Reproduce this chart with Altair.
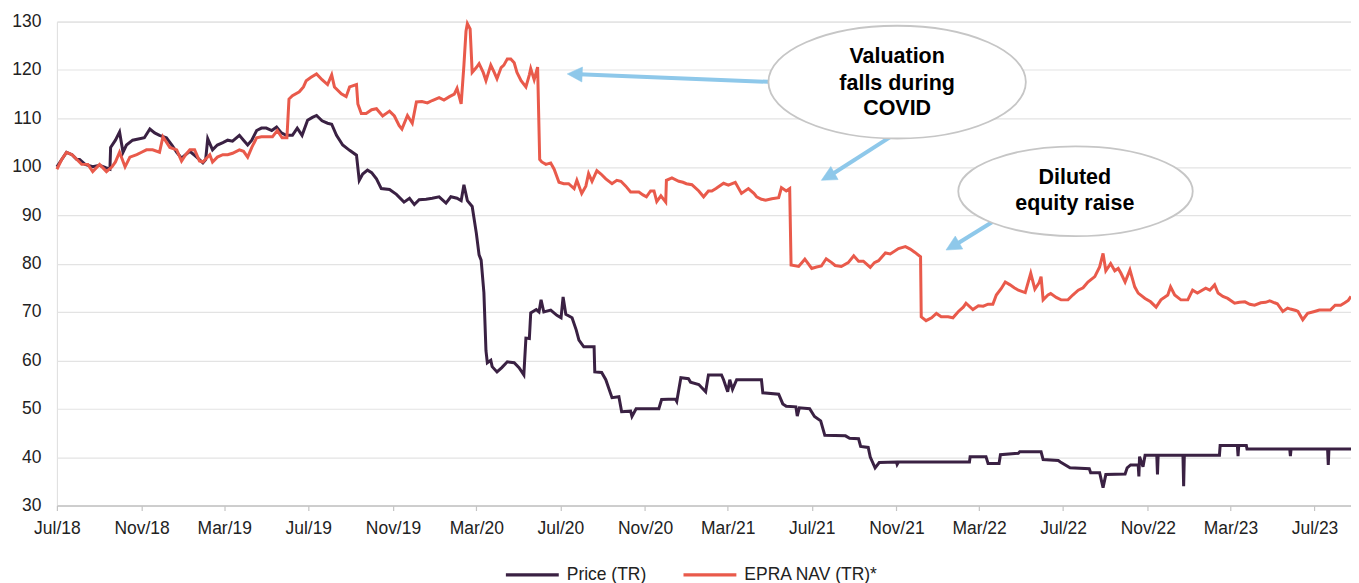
import altair as alt
import pandas as pd

# ---------------- data ----------------
price_dates = [
    "2018-07-01","2018-07-08","2018-07-15","2018-07-23","2018-07-30","2018-08-03","2018-08-11","2018-08-22",
    "2018-09-01","2018-09-10","2018-09-16","2018-09-17","2018-09-24","2018-09-30","2018-10-05","2018-10-10",
    "2018-10-19","2018-10-29","2018-11-05","2018-11-13","2018-11-20","2018-11-27","2018-12-07","2018-12-15",
    "2018-12-22","2018-12-29","2019-01-04","2019-01-10","2019-01-20","2019-01-29","2019-02-02","2019-02-05",
    "2019-02-12","2019-02-19","2019-02-27","2019-03-06","2019-03-13","2019-03-23","2019-03-29","2019-04-04",
    "2019-04-10","2019-04-17","2019-04-24","2019-05-01","2019-05-09","2019-05-16","2019-05-23","2019-05-30",
    "2019-06-08","2019-06-15","2019-06-22","2019-06-30","2019-07-07","2019-07-13","2019-07-21","2019-07-29",
    "2019-08-04","2019-08-11","2019-08-20","2019-08-30","2019-09-09","2019-09-13","2019-09-18","2019-09-25",
    "2019-10-01","2019-10-08","2019-10-15","2019-10-27","2019-11-06","2019-11-17","2019-11-25","2019-12-02",
    "2019-12-09","2019-12-19","2019-12-28","2020-01-07","2020-01-17","2020-01-24","2020-02-02","2020-02-08",
    "2020-02-12","2020-02-17","2020-02-24","2020-03-01","2020-03-05","2020-03-08","2020-03-12","2020-03-15",
    "2020-03-17","2020-03-22","2020-03-24","2020-03-31","2020-04-07","2020-04-15","2020-04-25","2020-05-02",
    "2020-05-09","2020-05-12","2020-05-17","2020-05-19","2020-05-27","2020-05-31","2020-06-03","2020-06-07",
    "2020-06-17","2020-06-26","2020-07-02","2020-07-05","2020-07-09","2020-07-18","2020-07-24","2020-07-28",
    "2020-08-04","2020-08-19","2020-08-20","2020-08-30","2020-09-05","2020-09-14","2020-09-24","2020-09-28",
    "2020-10-11","2020-10-13","2020-10-19","2020-11-21","2020-11-25","2020-12-15","2020-12-17","2020-12-23",
    "2021-01-03","2021-01-06","2021-01-18","2021-01-28","2021-02-01","2021-02-20","2021-02-23","2021-03-01",
    "2021-03-04","2021-03-08","2021-03-14","2021-04-19","2021-04-21","2021-05-14","2021-05-20","2021-05-25",
    "2021-06-08","2021-06-10","2021-06-13","2021-06-28","2021-07-05","2021-07-14","2021-07-20","2021-08-19",
    "2021-08-25","2021-09-07","2021-09-10","2021-09-21","2021-09-24","2021-10-01","2021-10-07","2021-11-01",
    "2021-11-02","2021-11-04","2022-02-15","2022-02-16","2022-03-11","2022-03-14","2022-03-30","2022-04-01",
    "2022-04-27","2022-04-29","2022-05-30","2022-06-02","2022-06-24","2022-06-27","2022-07-11","2022-08-08",
    "2022-08-10","2022-08-23","2022-08-28","2022-09-01","2022-09-29","2022-10-02","2022-10-07","2022-10-18",
    "2022-10-19","2022-10-20","2022-10-25","2022-10-28","2022-11-14","2022-11-15","2022-11-16","2022-12-22",
    "2022-12-23","2022-12-24","2023-02-13","2023-02-14","2023-03-11","2023-03-12","2023-03-13","2023-03-24",
    "2023-03-25","2023-05-26","2023-05-27","2023-05-28","2023-07-20","2023-07-21","2023-07-22","2023-08-23",
]
price_values = [
    100,101.5,103,102.5,101.5,101.5,100.5,100,
    100.3,99.8,99.5,104,105.5,107.2,103,104.5,
    105.5,105.8,106,107.8,107,106.5,106,104.5,
    103,101.8,102.5,103.2,102,100.8,101.5,105.8,
    103.5,104.5,105,105.5,105.3,106.5,105.5,104.5,
    105.5,107.5,108,108,107.5,108.2,107,106.5,
    106.5,108,106.5,109.6,110.2,110.6,109.5,109,
    108.8,106.5,104.5,103.4,102.4,97.2,98.5,99.3,
    98.8,97.5,95.5,95.3,94.3,92.7,93.5,92.2,
    93.2,93.3,93.5,93.8,92.5,93.8,93.5,93,
    96.3,93,91.8,86.3,81.8,80.7,74,62,
    59.5,60,58.7,57.6,58.5,59.7,59.5,58.5,
    57,64.6,64.5,69.8,70.5,70,72.5,70,
    70.4,69.3,68.8,73.1,69.5,68.8,66.3,64.2,
    62.8,62.8,57.6,57.5,56,52.3,52.5,49.4,
    49.5,48.4,50,50,51.9,52,51.5,56.4,
    56.2,55.5,55,53.5,57,57,56,53.5,
    56,54,56,56,53.3,53,51,50.5,
    50.4,48.5,50.2,50,48.4,47.5,44.5,44.4,
    43.9,43.8,42.2,42,40,37.8,38.9,39,
    38.5,39,39,40.1,40.1,38.7,38.7,40.5,
    40.8,41.1,41.1,39.5,39.3,39,37.8,37.6,
    36.8,36.8,33.7,36.4,36.5,37.8,38.4,38.4,
    36,40.1,38,40.4,40.4,36.4,40.4,40.4,
    34,40.4,40.4,42.4,42.4,40.2,42.4,42.4,
    41.7,41.7,40.2,41.7,41.7,38.4,41.7,41.7,
]

nav_dates = [
    "2018-07-01","2018-07-08","2018-07-15","2018-07-23","2018-07-30","2018-08-06","2018-08-15","2018-08-22",
    "2018-09-01","2018-09-11","2018-09-19","2018-09-24","2018-09-30","2018-10-08","2018-10-15","2018-10-25",
    "2018-11-01","2018-11-08","2018-11-17","2018-11-27","2018-12-02","2018-12-12","2018-12-22","2018-12-29",
    "2019-01-04","2019-01-10","2019-01-17","2019-01-24","2019-01-29","2019-02-08","2019-02-12","2019-02-19",
    "2019-02-27","2019-03-06","2019-03-13","2019-03-23","2019-03-29","2019-04-04","2019-04-10","2019-04-17",
    "2019-04-24","2019-05-01","2019-05-10","2019-05-17","2019-05-24","2019-05-31","2019-06-03","2019-06-08",
    "2019-06-18","2019-06-24","2019-06-28","2019-07-05","2019-07-13","2019-07-21","2019-07-29","2019-08-04",
    "2019-08-08","2019-08-18","2019-08-25","2019-08-30","2019-09-09","2019-09-11","2019-09-16","2019-09-23",
    "2019-10-01","2019-10-08","2019-10-17","2019-10-27","2019-11-03","2019-11-10","2019-11-14","2019-11-22",
    "2019-11-29","2019-12-05","2019-12-13","2019-12-21","2019-12-28","2020-01-07","2020-01-14","2020-01-22",
    "2020-01-29","2020-02-02","2020-02-08","2020-02-12","2020-02-15","2020-02-17","2020-02-21","2020-02-24",
    "2020-03-01","2020-03-05","2020-03-11","2020-03-15","2020-03-22","2020-03-27","2020-03-31","2020-04-06",
    "2020-04-10","2020-04-15","2020-04-20","2020-04-25","2020-04-29","2020-05-05","2020-05-12","2020-05-17",
    "2020-05-19","2020-05-24","2020-05-29","2020-06-01","2020-06-04","2020-06-10","2020-06-17","2020-06-22",
    "2020-06-29","2020-07-06","2020-07-13","2020-07-21","2020-07-25","2020-08-01","2020-08-07","2020-08-11",
    "2020-08-16","2020-08-23","2020-08-29","2020-09-05","2020-09-14","2020-09-21","2020-09-27","2020-10-04",
    "2020-10-11","2020-10-19","2020-10-23","2020-10-29","2020-11-03","2020-11-09","2020-11-14","2020-11-18",
    "2020-11-24","2020-12-01","2020-12-02","2020-12-10","2020-12-20","2020-12-26","2020-12-31","2021-01-08",
    "2021-01-18","2021-01-25","2021-02-01","2021-02-06","2021-02-12","2021-02-23","2021-03-02","2021-03-12",
    "2021-03-21","2021-03-31","2021-04-08","2021-04-12","2021-04-19","2021-04-25","2021-05-04","2021-05-14",
    "2021-05-18","2021-05-25","2021-05-30","2021-06-01","2021-06-12","2021-06-21","2021-07-01","2021-07-08",
    "2021-07-15","2021-07-22","2021-07-30","2021-08-04","2021-08-13","2021-08-23","2021-08-31","2021-09-07",
    "2021-09-14","2021-09-24","2021-09-30","2021-10-06","2021-10-16","2021-10-23","2021-11-04","2021-11-14",
    "2021-11-21","2021-11-28","2021-12-06","2021-12-07","2021-12-14","2021-12-22","2021-12-29","2022-01-05",
    "2022-01-15","2022-01-22","2022-01-30","2022-02-06","2022-02-10","2022-02-20","2022-02-28","2022-03-07",
    "2022-03-14","2022-03-21","2022-03-26","2022-04-02","2022-04-08","2022-04-15","2022-04-21","2022-04-27",
    "2022-05-07","2022-05-15","2022-05-21","2022-05-27","2022-05-30","2022-06-02","2022-06-09","2022-06-13",
    "2022-06-21","2022-06-28","2022-07-08","2022-07-15","2022-07-23","2022-07-30","2022-08-06","2022-08-16",
    "2022-08-23","2022-08-28","2022-09-01","2022-09-08","2022-09-14","2022-09-19","2022-09-23","2022-09-29",
    "2022-10-06","2022-10-13","2022-10-18","2022-10-28","2022-11-05","2022-11-13","2022-11-20","2022-11-30",
    "2022-12-04","2022-12-10","2022-12-19","2022-12-29","2023-01-05","2023-01-12","2023-01-24","2023-01-30",
    "2023-02-06","2023-02-11","2023-02-18","2023-02-25","2023-03-07","2023-03-14","2023-03-22","2023-03-29",
    "2023-04-05","2023-04-14","2023-04-21","2023-04-27","2023-05-04","2023-05-08","2023-05-16","2023-05-23",
    "2023-05-27","2023-06-04","2023-06-07","2023-06-14","2023-06-21","2023-07-01","2023-07-08","2023-07-15",
    "2023-07-24","2023-07-31","2023-08-08","2023-08-14","2023-08-19","2023-08-23",
]
nav_values = [
    99.5,101.5,103,102.5,101.5,100.5,100.5,99,
    100.5,99,100,101,103,100,102,102.5,
    103,103.5,103.5,103,106.2,104,103.5,101.2,
    102.5,103.5,103.5,101.2,101,102.5,101,102,
    102.5,102.5,102.8,103.5,103.2,102,104,106,
    106.2,106.2,106.2,107.5,106,106,114,114.7,
    115.5,116.5,117.8,118.5,119.2,118,117,119,
    116.5,115.1,114.5,116.5,117,113,111,111,
    111.8,112,110.5,111.5,110.5,108.5,107.8,110.6,
    109,113.4,113.5,113.2,113.7,114.3,113.8,114.5,
    115,116.2,113,121,128,129.6,128.5,119.5,
    120.5,121.3,119.5,117.8,121,119.5,118.2,120.5,
    121,122.3,122.3,121.5,119.5,117.8,116.5,119,
    120.3,118,120.6,101.5,101,100.5,100.8,99.5,
    96.8,96.5,96.5,95.5,97.2,94.5,96,98.6,
    97,99.2,98.5,97.5,96.5,97.2,97,96,
    94.8,94.8,94.8,94.2,93.8,95,95,92.8,
    94,92.7,97.2,97.7,97,96.8,96.5,96.3,
    95,93.8,95,95,95.5,96.6,96.2,96.8,
    94.5,95.5,94.5,93.8,93.3,93.1,93.4,93.6,
    95.7,95,95.5,79.7,79.4,80.9,79,79.3,
    79.5,81,80.2,79.6,79.4,80.2,81.6,80.5,
    80.5,79.2,80.2,80.6,82.2,82,83.1,83.5,
    83,82.3,81.4,69,68.2,68.8,69.7,69,
    69,68.8,70.1,71,71.8,70.5,71.3,71.2,
    71.6,71.6,73.5,74.8,76.2,75.6,75,74.5,
    74,78,74.7,76,77.3,72.5,73.5,73.8,
    73,72.5,72.5,73.5,74.5,75,76.2,77.3,
    79.3,82.1,78.5,80,78.5,79,78,76.2,
    78.7,75.2,73.9,72.8,72.1,71,72.5,73.5,
    75.2,73.5,72.5,72.5,74.5,73.9,74.9,74.5,
    75.6,73.9,73.2,72.8,71.8,72,72.1,71.6,
    71.4,71.9,72,72.3,71.9,71.7,70.1,70.8,
    70.6,70.3,70.1,68.4,69.7,70.1,70.4,70.4,
    70.4,71.4,71.4,71.9,72.4,73.2,
]

series_names = ["Price (TR)", "EPRA NAV (TR)*"]
series_colors = ["#3a2143", "#e95a4b"]
x_tick_dates = [(2018, 7), (2018, 11), (2019, 3), (2019, 7), (2019, 11), (2020, 3), (2020, 7),
                (2020, 11), (2021, 3), (2021, 7), (2021, 11), (2022, 3), (2022, 7), (2022, 11),
                (2023, 3), (2023, 7)]
y_ticks = [30, 40, 50, 60, 70, 80, 90, 100, 110, 120, 130]

# annotation callouts (anchored in data units)
bubble_texts = ["Valuation", "falls during", "COVID", "Diluted", "equity raise"]
bubble_text_dates = ["2021-11-02", "2021-11-02", "2021-11-02", "2022-07-18", "2022-07-18"]
bubble_text_values = [122.6, 117.2, 112.0, 97.6, 92.4]
bubble_dates = ["2021-11-02", "2022-07-19"]
bubble_values = [117.5, 94.95]
arrow_start_dates = ["2021-05-28", "2021-11-11", "2022-04-05"]
arrow_start_values = [117.4, 107.9, 90.0]
arrow_base_dates = ["2020-07-28", "2021-07-30", "2022-01-27"]
arrow_base_values = [119.1, 98.4, 84.0]
arrow_tip_dates = ["2020-07-11", "2021-07-15", "2022-01-12"]
arrow_tip_values = [119.2, 97.2, 82.8]
arrow_angles = [272.4, 240.8, 240.1]

# ---------------- tables ----------------
price_df = pd.DataFrame({"date": price_dates, "value": price_values, "series": series_names[0]})
nav_df = pd.DataFrame({"date": nav_dates, "value": nav_values, "series": series_names[1]})


def ellipse_path(r):
    k = 0.5523
    return (f"M -1 0 C -1 {-k*r:.4f} {-k:.4f} {-r:.4f} 0 {-r:.4f} "
            f"C {k:.4f} {-r:.4f} 1 {-k*r:.4f} 1 0 "
            f"C 1 {k*r:.4f} {k:.4f} {r:.4f} 0 {r:.4f} "
            f"C {-k:.4f} {r:.4f} -1 {k*r:.4f} -1 0 Z")


bubble_df = pd.DataFrame({
    "date": bubble_dates, "value": bubble_values,
    "shape": [ellipse_path(0.438), ellipse_path(0.383)],
    "size": [258 ** 2, 235 ** 2],
})
text_df = pd.DataFrame({"date": bubble_text_dates, "value": bubble_text_values, "label": bubble_texts})
arrow_df = pd.DataFrame({"date": arrow_start_dates, "value": arrow_start_values,
                         "date2": arrow_base_dates, "value2": arrow_base_values})
head_df = pd.DataFrame({"date": arrow_tip_dates, "value": arrow_tip_values, "angle": arrow_angles})

FONT = "Liberation Sans"
LABEL = "#222222"

x_enc = alt.X(
    "date:T",
    scale=alt.Scale(type="utc", domain=[alt.DateTime(year=2018, month=7, date=1, utc=True),
                                        alt.DateTime(year=2023, month=8, date=23, utc=True)]),
    axis=alt.Axis(
        values=[alt.DateTime(year=y, month=m, date=1, utc=True) for y, m in x_tick_dates],
        format="%b/%y", title=None, grid=False,
        domainColor="#c4c4c4", domainWidth=1.5, tickColor="#c4c4c4", tickWidth=1.2, tickSize=5,
        labelFont=FONT, labelFontSize=17.5, labelColor=LABEL, labelPadding=9,
        labelFlush=False, labelOverlap=False,
    ),
)
y_enc = alt.Y(
    "value:Q",
    scale=alt.Scale(domain=[30, 130], nice=False, zero=False),
    axis=alt.Axis(
        values=y_ticks, title=None, domain=False, ticks=False, tickSize=0,
        gridColor="#e3e3e3", gridWidth=1.2,
        labelFont=FONT, labelFontSize=17.5, labelColor=LABEL, labelPadding=16,
    ),
)
color_enc = alt.Color(
    "series:N",
    scale=alt.Scale(domain=series_names, range=series_colors),
    legend=alt.Legend(
        orient="none", legendX=448, legendY=526, direction="horizontal", title=None,
        symbolType="stroke", symbolSize=2809, symbolStrokeWidth=3.2,
        labelFont=FONT, labelFontSize=17.5, labelColor=LABEL, labelOffset=6,
        columnPadding=30, padding=0,
    ),
)

price_line = alt.Chart(price_df).mark_line(strokeWidth=3, interpolate="linear").encode(
    x=x_enc, y=y_enc, color=color_enc)
nav_line = alt.Chart(nav_df).mark_line(strokeWidth=3, interpolate="linear").encode(
    x=x_enc, y=y_enc, color=color_enc)

arrows = alt.Chart(arrow_df).mark_rule(color="#8ec8ea", strokeWidth=4).encode(
    x=x_enc, y=y_enc, x2="date2:T", y2="value2:Q")
heads = alt.Chart(head_df).mark_point(
    shape="M 0 0 L -0.5 1 L 0.5 1 Z", size=900, filled=True, fill="#8ec8ea",
    stroke="#8ec8ea", strokeWidth=0.5, opacity=1,
).encode(x=x_enc, y=y_enc, angle=alt.Angle("angle:Q", scale=None))

bubbles = alt.Chart(bubble_df).mark_point(
    filled=True, fill="white", stroke="#c6c6c6", strokeWidth=1.8, opacity=1,
).encode(x=x_enc, y=y_enc,
         shape=alt.Shape("shape:N", scale=None, legend=None),
         size=alt.Size("size:Q", scale=None, legend=None))

texts = alt.Chart(text_df).mark_text(
    font=FONT, fontSize=21.5, fontWeight="bold", color="#000000", align="center", baseline="middle",
).encode(x=x_enc, y=y_enc, text="label:N")

chart = alt.layer(price_line, nav_line, arrows, heads, bubbles, texts).properties(
    width=1297, height=485,
    padding={"left": 49, "top": 13, "right": 0, "bottom": 84},
    autosize=alt.AutoSizeParams(type="none"),
).configure_view(stroke=None).configure(background="white")

chart.save("out.html", embed_options={"renderer": "svg", "actions": False})
